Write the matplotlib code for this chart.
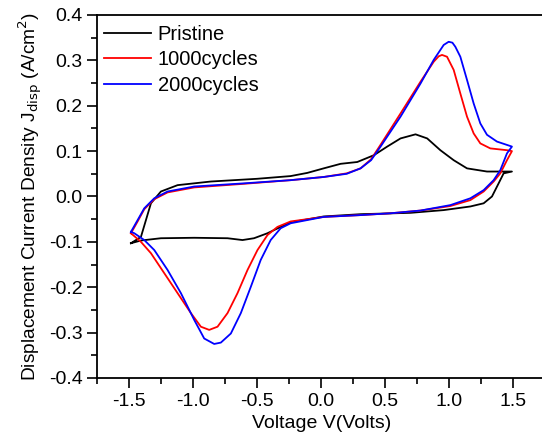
import matplotlib
matplotlib.use("Agg")
import matplotlib.pyplot as plt
from matplotlib.ticker import MultipleLocator

plt.rcParams['font.family'] = ['Liberation Sans', 'DejaVu Sans']

# each loop: forward (upper) branch -1.5 -> 1.5, then reverse (lower) branch back
v_pristine = [-1.485, -1.407, -1.368, -1.329, -1.251, -1.121, -0.861, -0.5, -0.238, -0.108,
              0.02, 0.152, 0.282, 0.412, 0.516, 0.620, 0.737, 0.828, 0.931, 1.035, 1.139,
              1.295, 1.49,
              1.425, 1.386, 1.334, 1.269, 1.165, 0.957, 0.698, 0.308, 0.02, -0.238, -0.316,
              -0.419, -0.524, -0.614, -0.731, -0.991, -1.251, -1.407, -1.485]
j_pristine = [-0.103, -0.089, -0.052, -0.015, 0.011, 0.025, 0.033, 0.039, 0.045, 0.052,
              0.062, 0.072, 0.076, 0.091, 0.110, 0.128, 0.137, 0.128, 0.102, 0.080, 0.062,
              0.055, 0.055,
              0.051, 0.029, 0.000, -0.015, -0.022, -0.030, -0.036, -0.039, -0.044, -0.057, -0.067,
              -0.081, -0.092, -0.096, -0.092, -0.091, -0.092, -0.097, -0.103]

v_1000 = [-1.485, -1.433, -1.381, -1.303, -1.199, -0.991, -0.601, -0.238, 0.02, 0.2,
          0.308, 0.39, 0.464, 0.620, 0.776, 0.879, 0.918, 0.944, 0.983, 1.035, 1.087,
          1.139, 1.191, 1.243, 1.321, 1.451, 1.49,
          1.451, 1.399, 1.347, 1.269, 1.165, 1.009, 0.776, 0.542, 0.308, 0.02, -0.238,
          -0.341, -0.419, -0.497, -0.575, -0.653, -0.731, -0.809, -0.874, -0.939, -1.017,
          -1.121, -1.225, -1.329, -1.407, -1.485]
j_1000 = [-0.081, -0.055, -0.028, -0.006, 0.009, 0.020, 0.028, 0.036, 0.043, 0.051,
          0.062, 0.082, 0.114, 0.183, 0.253, 0.297, 0.309, 0.312, 0.308, 0.279, 0.227,
          0.176, 0.139, 0.117, 0.106, 0.102, 0.100,
          0.080, 0.051, 0.033, 0.011, -0.008, -0.021, -0.031, -0.037, -0.041, -0.045, -0.055,
          -0.067, -0.085, -0.118, -0.162, -0.213, -0.257, -0.287, -0.294, -0.287, -0.257,
          -0.213, -0.169, -0.125, -0.100, -0.081]

v_2000 = [-1.485, -1.433, -1.381, -1.303, -1.199, -0.991, -0.601, -0.238, 0.02, 0.2,
          0.308, 0.39, 0.464, 0.620, 0.776, 0.879, 0.957, 0.996, 1.025, 1.048, 1.087,
          1.139, 1.191, 1.243, 1.295, 1.373, 1.49,
          1.451, 1.399, 1.347, 1.269, 1.165, 1.009, 0.776, 0.542, 0.308, 0.02, -0.238,
          -0.316, -0.394, -0.472, -0.549, -0.627, -0.705, -0.783, -0.835, -0.913, -0.991,
          -1.095, -1.199, -1.303, -1.381, -1.459, -1.485]
j_2000 = [-0.078, -0.052, -0.026, -0.004, 0.011, 0.022, 0.029, 0.036, 0.043, 0.050,
          0.062, 0.080, 0.110, 0.176, 0.249, 0.301, 0.334, 0.341, 0.339, 0.330, 0.308,
          0.257, 0.205, 0.161, 0.136, 0.121, 0.110,
          0.095, 0.058, 0.036, 0.014, -0.004, -0.019, -0.031, -0.037, -0.041, -0.045, -0.059,
          -0.070, -0.096, -0.140, -0.199, -0.257, -0.302, -0.322, -0.325, -0.313, -0.272,
          -0.213, -0.162, -0.118, -0.096, -0.081, -0.078]

labels = ["Pristine", "1000cycles", "2000cycles"]
colors = ["black", "#ff0000", "#0000ff"]


def main():
    fig = plt.figure(figsize=(5.42, 4.45), dpi=100)
    ax = fig.add_axes([0.179, 0.1506, 0.827, 0.8157])

    series = [(v_pristine, j_pristine), (v_1000, j_1000), (v_2000, j_2000)]
    for (v, j), lab, c in zip(series, labels, colors):
        ax.plot(v, j, color=c, lw=1.3, label=lab, solid_joinstyle='round')

    ax.set_xlim(-1.75, 1.75)
    ax.set_ylim(-0.4, 0.4)
    ax.xaxis.set_major_locator(MultipleLocator(0.5))
    ax.xaxis.set_minor_locator(MultipleLocator(0.25))
    ax.yaxis.set_major_locator(MultipleLocator(0.1))
    ax.yaxis.set_minor_locator(MultipleLocator(0.05))
    ax.yaxis.set_major_formatter(plt.FormatStrFormatter('%.1f'))
    ax.xaxis.set_major_formatter(plt.FormatStrFormatter('%.1f'))

    ax.tick_params(which='both', direction='out', labelsize=14, width=1.2,
                   right=True, top=False)
    ax.tick_params(which='major', length=7)
    ax.tick_params(which='minor', length=4)
    for s in ax.spines.values():
        s.set_linewidth(1.3)

    ax.set_xlabel("Voltage V(Volts)", fontsize=14, labelpad=4)
    ax.set_ylabel("Displacement Current Density J$_{\\mathrm{disp}}$ (A/cm$^2$)",
                  fontsize=13.8, labelpad=3)

    ax.legend(loc='upper left', frameon=False, fontsize=14.5, handlelength=2.3,
              handletextpad=0.35, labelspacing=0.33, borderaxespad=0.0,
              borderpad=0.2, bbox_to_anchor=(0.007, 0.984))

    fig.savefig("out.png", dpi=100)


if __name__ == "__main__":
    main()
